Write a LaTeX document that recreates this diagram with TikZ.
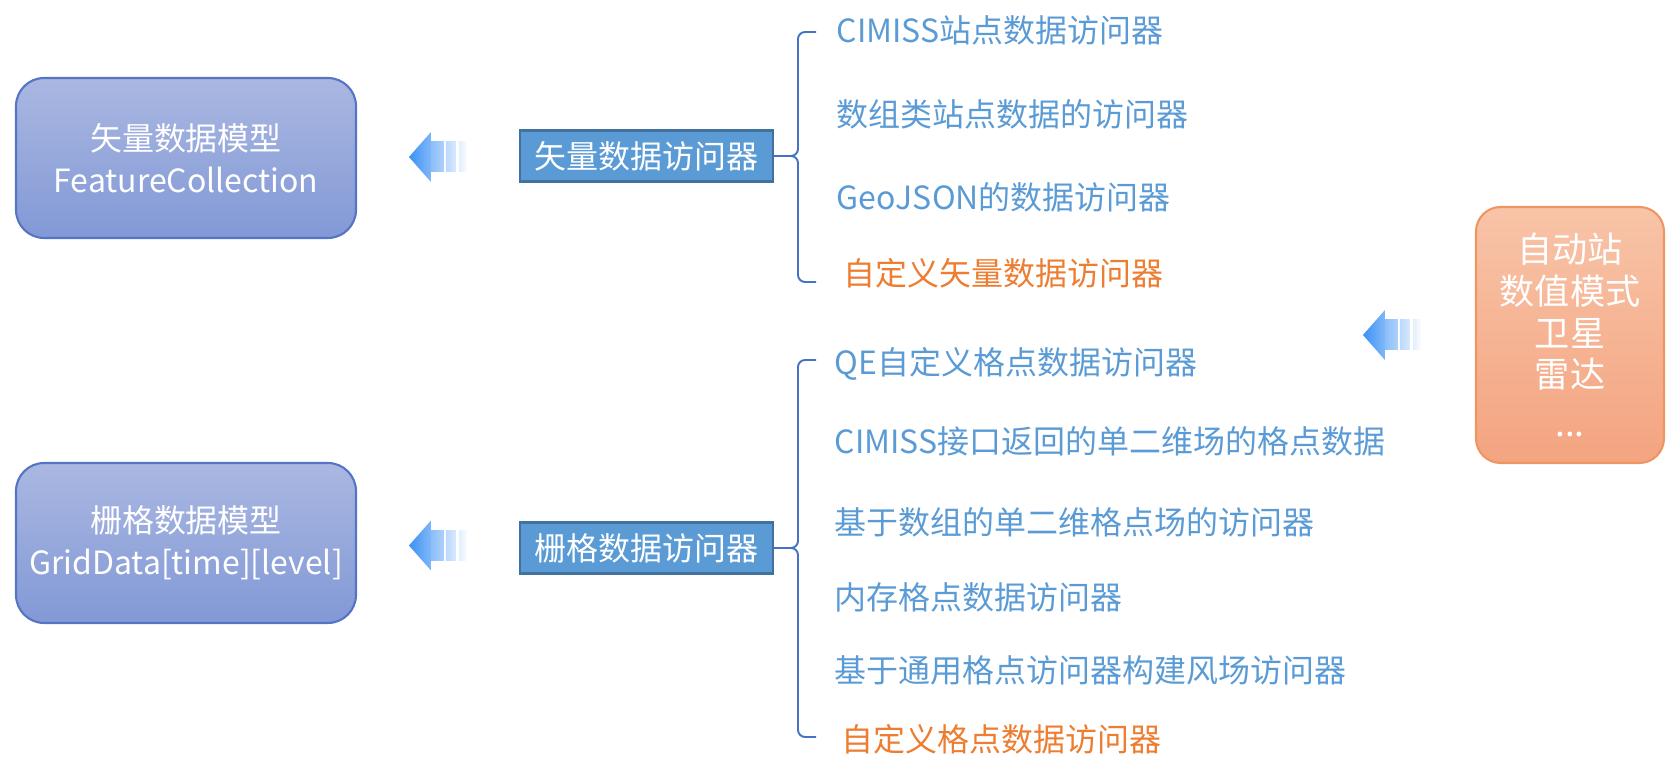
\documentclass[tikz,border=0pt]{standalone}
\usepackage{fontspec}
\setmainfont{Noto Sans CJK SC}
\usepackage{tikz}
\usetikzlibrary{positioning, calc}
\definecolor{modelTop}{RGB}{170, 183, 225}
\definecolor{modelBot}{RGB}{130, 153, 214}
\definecolor{modelEdge}{RGB}{86, 116, 196}
\definecolor{accFill}{RGB}{91, 155, 213}
\definecolor{accEdge}{RGB}{65, 113, 156}
\definecolor{srcTop}{RGB}{248, 196, 168}
\definecolor{srcBot}{RGB}{244, 164, 128}
\definecolor{srcEdge}{RGB}{237, 150, 100}
\definecolor{itemBlue}{RGB}{91, 155, 213}
\definecolor{ownOrange}{RGB}{237, 125, 49}
\definecolor{bracketBlue}{RGB}{68, 114, 196}
\definecolor{arrowBlue}{RGB}{60, 145, 245}

\begin{document}
\begin{tikzpicture}[
        x=0.1mm, y=-0.1mm,
        font=\fontsize{9.1}{11.95}\selectfont,
        model/.style={rectangle, rounded corners=8pt, draw=modelEdge, line width=0.6pt,
            top color=modelTop, bottom color=modelBot, align=center, text=white,
            minimum width=34mm, minimum height=16mm},
        acc/.style={rectangle, draw=accEdge, line width=0.6pt, fill=accFill, text=white,
            minimum width=25.3mm, minimum height=5.1mm, inner sep=2pt},
        src/.style={rectangle, rounded corners=7pt, draw=srcEdge, line width=0.6pt,
            top color=srcTop, bottom color=srcBot, align=center, text=white,
            font=\fontsize{10}{11.9}\selectfont, minimum width=18.8mm, minimum height=25.6mm},
        item/.style={anchor=west, inner sep=0pt, text=itemBlue},
        own/.style={item, text=ownOrange, xshift=0.7mm},
        bracket/.style={draw=bracketBlue, line width=0.55pt, rounded corners=2pt},
        fadearrow/.pic={
            \shade[left color=arrowBlue, right color=arrowBlue!65!white] (-29,0) -- (-7,-25) -- (-7,25) -- cycle;
            \shade[left color=arrowBlue!60!white, right color=arrowBlue!42!white] (-7,-15) rectangle (6,15);
            \shade[left color=arrowBlue!35!white, right color=arrowBlue!20!white] (8,-15) rectangle (18,15);
            \shade[left color=arrowBlue!15!white, right color=arrowBlue!2!white] (21,-15) rectangle (29,15);
        }
    ]
    \useasboundingbox (0,0) rectangle (1680,774);

    % data models
    \node[model] (vecmodel) at (186,158) {矢量数据模型\\FeatureCollection};
    \node[model] (gridmodel) at (186,543) {栅格数据模型\\GridData[time][level]};

    % accessors
    \node[acc, anchor=east] (vecacc) at (774,156) {矢量数据访问器};
    \node[acc, anchor=east] (gridacc) at (774,548) {栅格数据访问器};

    % data sources
    \node[src] (src) at (1570,335) {自动站\\数值模式\\卫星\\雷达\\[2pt]...};

    \pic at ($(vecmodel.east)!0.5!(vecacc.west)$) {fadearrow};
    \pic at ($(gridmodel.east)!0.5!(gridacc.west)$) {fadearrow};
    \pic at ([xshift=-8.3mm]src.west) {fadearrow};

    % vector accessors
    \node[item] (va) at (836,30) {CIMISS站点数据访问器};
    \node[item] (vb) at (836,114) {数组类站点数据的访问器};
    \node[item] (vc) at (836,197) {GeoJSON的数据访问器};
    \node[own] (vd) at (836,273) {自定义矢量数据访问器};

    % grid accessors
    \node[item] (ga) at (834,364) {QE自定义格点数据访问器};
    \node[item] (gb) at (834,441) {CIMISS接口返回的单二维场的格点数据};
    \node[item] (gc) at (834,522) {基于数组的单二维格点场的访问器};
    \node[item] (gd) at (834,597) {内存格点数据访问器};
    \node[item] (ge) at (834,670) {基于通用格点访问器构建风场访问器};
    \node[own] (gf) at (834,739) {自定义格点数据访问器};

    \draw[bracket] ([shift={(-20,2)}]va.west) -- ++(-18,0) |- (vecacc.east);
    \draw[bracket] ([shift={(-27,9)}]vd.west) -- ++(-18,0) |- (vecacc.east);
    \draw[bracket] ([shift={(-18,-4)}]ga.west) -- ++(-18,0) |- (gridacc.east);
    \draw[bracket] ([shift={(-25,-2)}]gf.west) -- ++(-18,0) |- (gridacc.east);
\end{tikzpicture}
\end{document}
